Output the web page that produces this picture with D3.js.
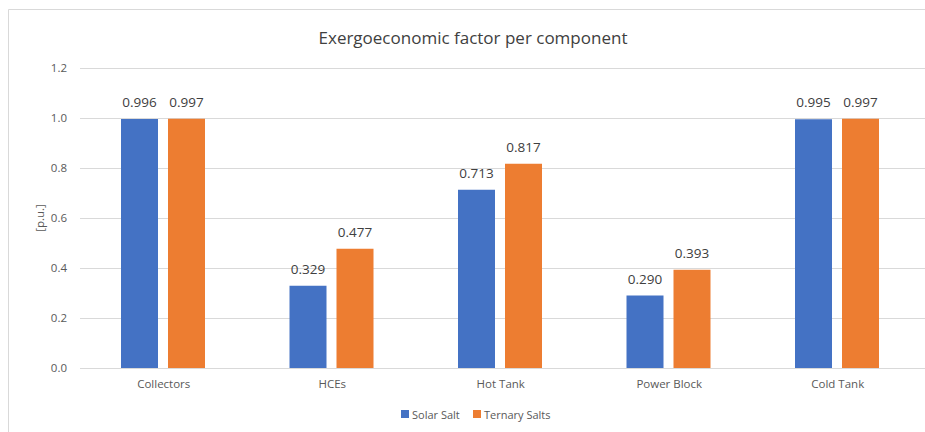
<!DOCTYPE html>
<html>
<head>
<meta charset="utf-8">
<script src="https://cdn.jsdelivr.net/npm/d3@7"></script>
<style>
  body { margin: 0; background: #fff; }
  svg { display: block; font-family: "Open Sans", "Liberation Sans", sans-serif; }
</style>
</head>
<body>
<svg id="chart" width="925" height="432"></svg>
<script>
const categories = ["Collectors", "HCEs", "Hot Tank", "Power Block", "Cold Tank"];
const seriesNames = ["Solar Salt", "Ternary Salts"];
const solarSalt = [0.996, 0.329, 0.713, 0.290, 0.995];
const ternarySalts = [0.997, 0.477, 0.817, 0.393, 0.997];
const yTicks = [0, 0.2, 0.4, 0.6, 0.8, 1.0, 1.2];
const colors = ["#4472C4", "#ED7D31"];

const svg = d3.select("#chart");
const W = 925, H = 432;

// outer frame of the chart area
svg.append("path")
  .attr("d", `M8.5,${H} V9.5 H${W}`)
  .attr("fill", "none").attr("stroke", "#d9d9d9").attr("stroke-width", 1);

const y = d3.scaleLinear().domain([0, 1.2]).range([368, 68]);
const x0 = d3.scaleBand().domain(categories).range([79.5, 922]).padding(0);
const x1 = d3.scaleBand().domain(seriesNames)
  .range([41.5, 41.5 + 84]).paddingInner(10 / 47).paddingOuter(0);

// gridlines
svg.append("g").selectAll("line").data(yTicks).join("line")
  .attr("x1", 80).attr("x2", W)
  .attr("y1", d => Math.round(y(d)) + 0.5).attr("y2", d => Math.round(y(d)) + 0.5)
  .attr("stroke", "#d9d9d9").attr("stroke-width", 1);

// y tick labels
svg.append("g").selectAll("text").data(yTicks).join("text")
  .attr("x", 67).attr("y", d => y(d) + 4)
  .attr("text-anchor", "end")
  .attr("font-size", 11.5).attr("fill", "#595959")
  .text(d => d.toFixed(1));

// y axis title
svg.append("text")
  .attr("transform", "translate(44,218) rotate(-90)")
  .attr("text-anchor", "middle")
  .attr("font-size", 11.5).attr("fill", "#595959")
  .text("[p.u.]");

// title
svg.append("text")
  .attr("x", 473).attr("y", 44)
  .attr("text-anchor", "middle")
  .attr("font-size", 17).attr("fill", "#404040")
  .text("Exergoeconomic factor per component");

const seriesData = [solarSalt, ternarySalts];
const groups = svg.append("g").selectAll("g").data(categories).join("g")
  .attr("transform", d => `translate(${x0(d)},0)`);

groups.selectAll("rect")
  .data((c, i) => seriesNames.map((s, j) => ({ s, v: seriesData[j][i], j })))
  .join("rect")
  .attr("x", d => x1(d.s))
  .attr("width", x1.bandwidth())
  .attr("y", d => y(d.v))
  .attr("height", d => y(0) - y(d.v))
  .attr("fill", d => colors[d.j]);

groups.selectAll("text.val")
  .data((c, i) => seriesNames.map((s, j) => ({ s, v: seriesData[j][i], j })))
  .join("text").attr("class", "val")
  .attr("x", d => x1(d.s) + x1.bandwidth() / 2)
  .attr("y", d => y(d.v) - 12)
  .attr("text-anchor", "middle")
  .attr("font-size", 13.5).attr("fill", "#404040")
  .text(d => d.v.toFixed(3));

// category labels
groups.append("text")
  .attr("x", x0.bandwidth() / 2)
  .attr("y", 388)
  .attr("text-anchor", "middle")
  .attr("font-size", 11.5).attr("fill", "#595959")
  .text(d => d);

// legend
const legendItems = [{ name: seriesNames[0], x: 401 }, { name: seriesNames[1], x: 473 }];
const lg = svg.append("g").selectAll("g").data(legendItems).join("g")
  .attr("transform", d => `translate(${d.x},410)`);
lg.append("rect").attr("width", 8).attr("height", 8)
  .attr("fill", (d, i) => colors[i]);
lg.append("text").attr("x", 11).attr("y", 8.5)
  .attr("font-size", 11).attr("fill", "#595959")
  .text(d => d.name);
</script>
</body>
</html>
